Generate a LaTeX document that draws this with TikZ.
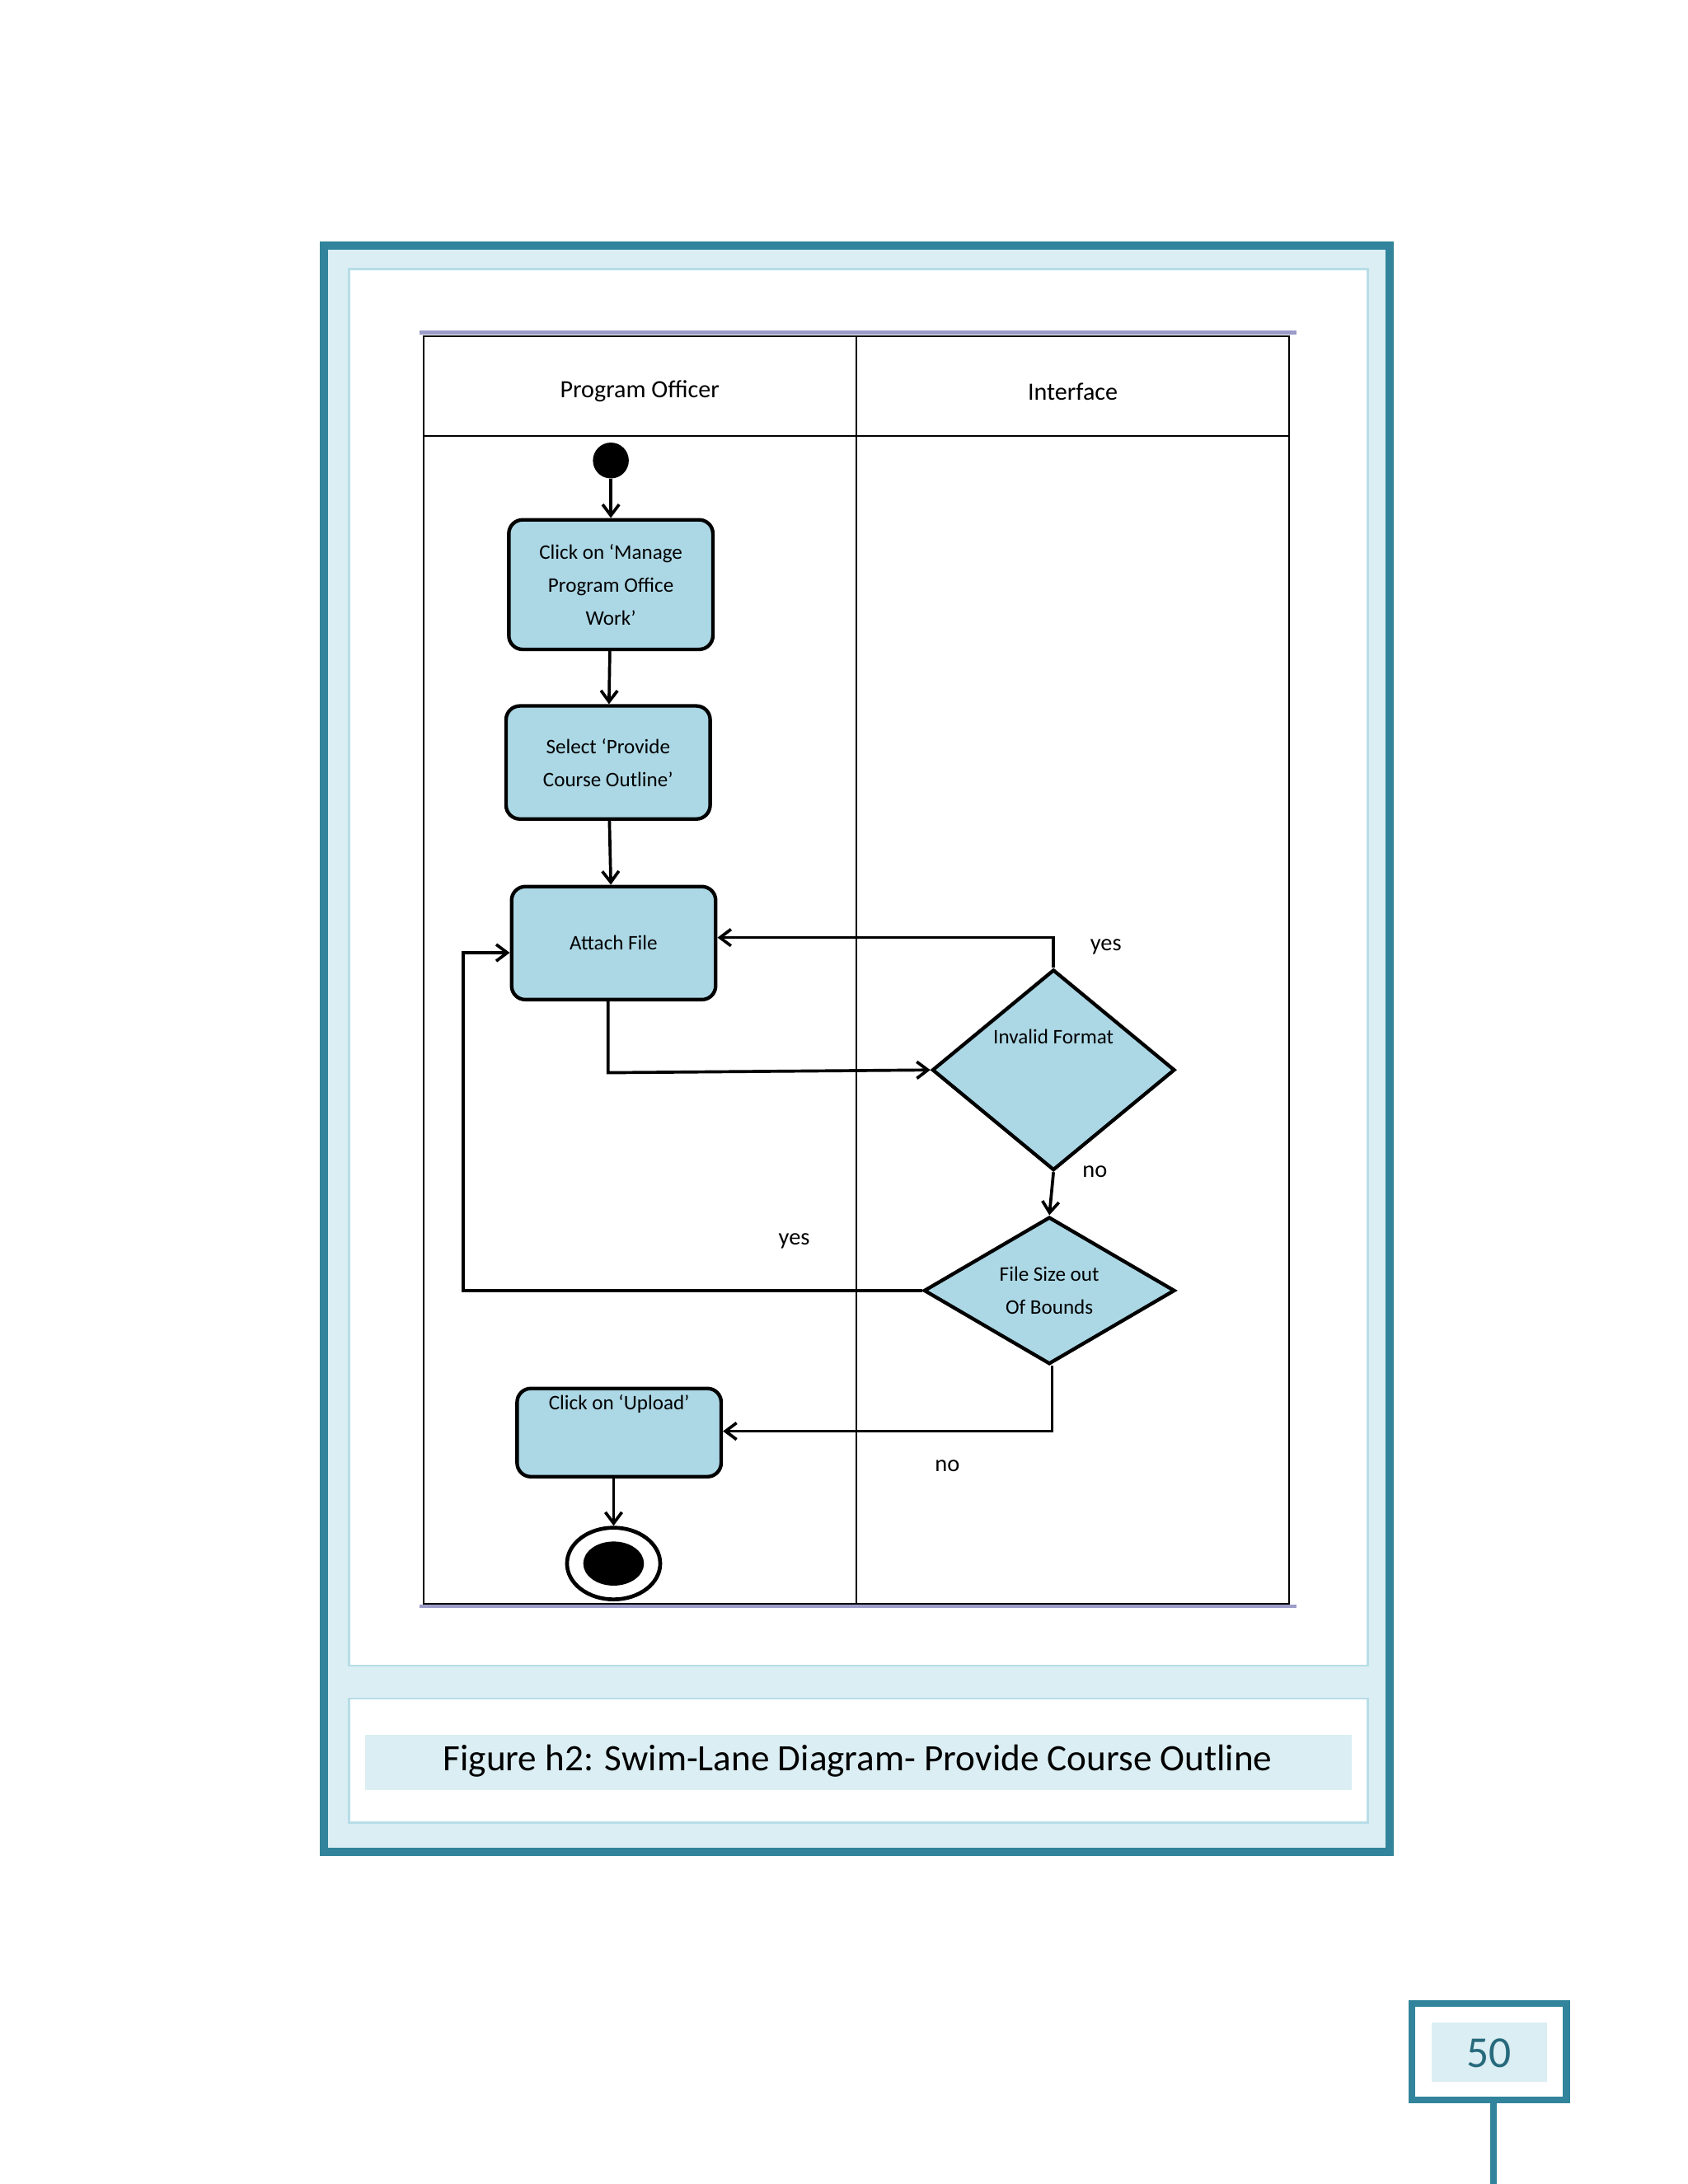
\documentclass[tikz,border=0pt]{standalone}
\usepackage{fontspec}
\setmainfont{Carlito}
\usetikzlibrary{shapes.geometric,arrows.meta}
\definecolor{teal1}{RGB}{49,132,155}
\definecolor{pale}{RGB}{219,238,243}
\definecolor{edge}{RGB}{183,221,232}
\definecolor{nfill}{RGB}{172,216,230}
\begin{document}
\begin{tikzpicture}[x=0.5pt,y=-0.5pt,
 box/.style={draw,line width=1.3pt,rounded corners=5pt,fill=nfill,align=center,font=\fontsize{7.5}{12}\selectfont,inner sep=0},
 dia/.style={draw,line width=1.3pt,diamond,fill=nfill,align=center,font=\fontsize{7.5}{12}\selectfont,inner sep=0},
 ar/.style={line width=1.1pt,-{Straight Barb[length=4pt,width=6pt]}},
 lab/.style={font=\fontsize{8.5}{10}\selectfont}]
\useasboundingbox (0,0) rectangle (1224,1584);
\fill[white] (0,0) rectangle (1224,1584);
\draw[teal1,line width=3pt,fill=pale] (235,178) rectangle (1008,1343);
\draw[edge,line width=0.8pt,fill=white] (253,195) rectangle (992,1208);
\draw[edge,line width=0.8pt,fill=white] (253,1232) rectangle (992,1322);
\fill[pale] (265,1258) rectangle (980,1298);
\node[font=\fontsize{13.5}{16}\selectfont] (cap) at (622,1277) {Figure h2: Swim-Lane Diagram- Provide Course Outline};
% table
\draw[line width=0.6pt] (307,244) rectangle (935,1163);
\draw[line width=0.6pt] (307,316) -- (935,316);
\draw[line width=0.6pt] (621,244) -- (621,1163);
\draw[blue!30!gray!60,line width=1.5pt] (304,241) -- (940,241);
\draw[blue!30!gray!60,line width=1pt] (304,1165) -- (940,1165);
\node[font=\fontsize{9}{11}\selectfont] (h1) at (464,284) {Program Officer};
\node[font=\fontsize{9}{11}\selectfont] (h2) at (778,284) {Interface};
% nodes
\node[circle,fill=black,minimum size=13pt,inner sep=0] (s) at (443,334) {};
\node[box,minimum width=74pt,minimum height=47pt] (b1) at (443,424) {Click on ‘Manage\\Program Office\\Work’};
\node[box,minimum width=74pt,minimum height=41pt] (b2) at (441,553) {Select ‘Provide\\Course Outline’};
\node[box,minimum width=74pt,minimum height=41pt] (b3) at (445,684) {Attach File};
\node[dia,minimum width=88pt,minimum height=60pt] (d1) at (764,776) {Invalid Format\\[12pt]};
\node[dia,minimum width=91pt,minimum height=53pt] (d2) at (761,936) {File Size out\\Of Bounds};
\node[box,minimum width=74pt,minimum height=32pt] (b4) at (449,1039) {Click on ‘Upload’\\[10pt]};
\node[circle,draw,line width=1.4pt,minimum size=26pt,inner sep=0,xscale=1.3] (e) at (445,1134) {};
\fill (e.center) ellipse (11pt and 8pt);
\coordinate (c1) at (441,778);
\coordinate (c2) at (764,680);
\coordinate (c3) at (336,936);
\coordinate (c4) at (336,691);
\coordinate (c5) at (763,1038);
% arrows
\draw[ar] (s) -- (b1);
\draw[ar] (b1) -- (b2);
\draw[ar] (b2) -- (b1.south |- b3.north);
\draw[ar] (b3.south -| c1) -- (c1) -- (d1.west);
\draw[ar] (d1.north) -- (c2) -- (b3.east |- c2);
\draw[ar] (d1.south) -- (d2.north);
\draw[ar] (d2.west) -- (c3) -- (c4) -- (b3.west |- c4);
\draw[ar] (d2.south -| c5) -- (c5) -- (b4.east |- c5);
\draw[ar] (b4.south -| e) -- (e.north);
\node[lab] (y1) at (802,687) {yes};
\node[lab] (n1) at (794,850) {no};
\node[lab] (y2) at (576,900) {yes};
\node[lab] (n2) at (687,1063) {no};
% page number
\draw[teal1,line width=2.5pt] (1083,1523) -- (1083,1584);
\draw[teal1,line width=2.5pt,fill=white] (1024,1453) rectangle (1136,1523);
\fill[pale] (1038,1467) rectangle (1122,1510);
\node[teal1!80!black,font=\fontsize{16}{18}\selectfont] (pn) at (1080,1489) {50};
\end{tikzpicture}
\end{document}
